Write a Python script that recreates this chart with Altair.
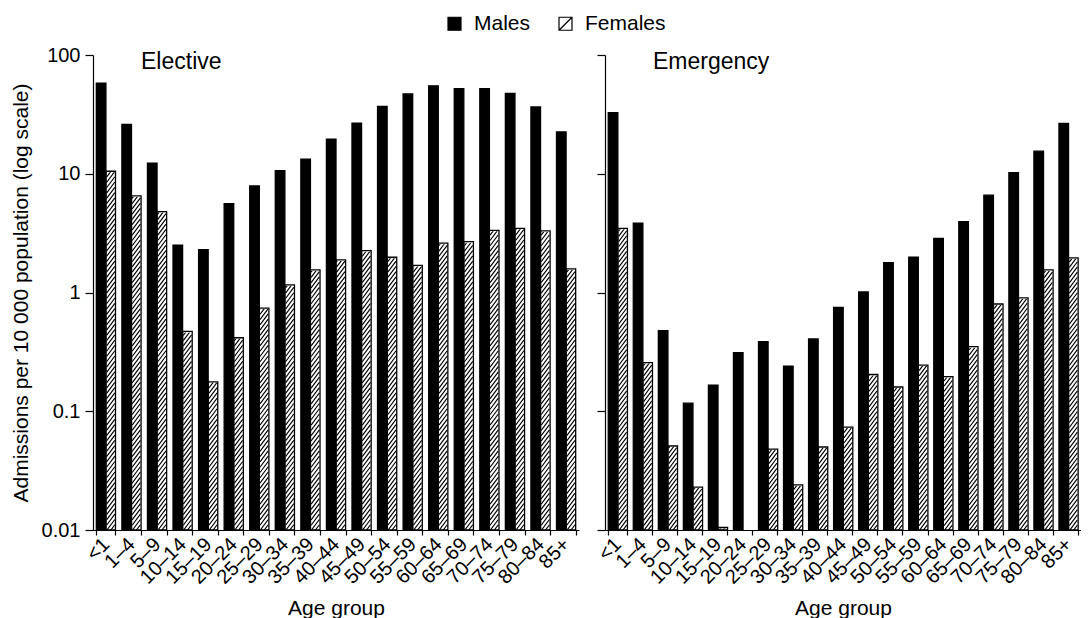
import altair as alt
import pandas as pd

# ---------------- data ----------------
ages = ["<1", "1–4", "5–9", "10–14", "15–19", "20–24", "25–29", "30–34", "35–39",
        "40–44", "45–49", "50–54", "55–59", "60–64", "65–69", "70–74", "75–79",
        "80–84", "85+"]

elective_males = [58, 26, 12.3, 2.5, 2.3, 5.6, 7.9, 10.6, 13.3, 19.6, 26.7,
                  37, 47, 55, 52, 52, 47.6, 36.5, 22.5]
elective_females = [10.5, 6.5, 4.8, 0.47, 0.177, 0.416, 0.74, 1.16, 1.55, 1.88,
                    2.25, 1.98, 1.69, 2.6, 2.68, 3.34, 3.47, 3.3, 1.58]

emergency_males = [32.7, 3.83, 0.477, 0.117, 0.166, 0.312, 0.385, 0.24, 0.406,
                   0.748, 1.01, 1.78, 1.98, 2.86, 3.95, 6.6, 10.2, 15.5, 26.6]
emergency_females = [3.47, 0.257, 0.051, 0.023, 0.0105, None, 0.048, 0.024,
                     0.050, 0.0736, 0.204, 0.16, 0.245, 0.196, 0.35, 0.80, 0.90,
                     1.55, 1.96]

sexes = ["Males", "Females"]
y_ticks = [0.01, 0.1, 1, 10, 100]

rows = []
for panel, m, f in [("Elective", elective_males, elective_females),
                    ("Emergency", emergency_males, emergency_females)]:
    for a, mv, fv in zip(ages, m, f):
        rows.append({"panel": panel, "age": a, "sex": "Males", "value": mv})
        rows.append({"panel": panel, "age": a, "sex": "Females", "value": fv})
df = pd.DataFrame(rows)

# ---------------- styling ----------------
FONT = "Liberation Sans"
H = 475
PAD_IN, PAD_OUT = 0.25, 0.13
LEGEND_SYMBOL = "M-1,-1H1V1H-1Z M-1,1L1,-1"


def hatch_path():
    # diagonal strokes in a tall symbol, slightly narrower than the unit box
    segs = []
    yy = -56.0
    while yy <= 56.0:
        segs.append(f"M-0.86,{yy + 1.15:.2f}L0.86,{yy - 1.15:.2f}")
        yy += 1.1
    return "".join(segs)


HATCH = hatch_path()


def make_panel(panel, first, width):
    step = width / (len(ages) - PAD_IN + 2 * PAD_OUT)
    sub = step * (1 - PAD_IN) / 2
    base = alt.Chart(df).transform_filter(f"datum.panel == '{panel}'")
    x = alt.X("age:N", sort=ages,
              scale=alt.Scale(domain=ages, paddingInner=PAD_IN, paddingOuter=PAD_OUT),
              axis=alt.Axis(title="Age group", labelAngle=-45, labelAlign="right",
                            labelBaseline="middle", tickBand="extent", tickSize=5,
                            labelPadding=6, titlePadding=10))
    xo = alt.XOffset("sex:N", sort=sexes, scale=alt.Scale(domain=sexes))
    yscale = alt.Scale(type="log", domain=[0.01, 100], nice=False)
    if first:
        yaxis = alt.Axis(values=y_ticks, format="~g",
                         title="Admissions per 10 000 population (log scale)",
                         tickSize=8, labelPadding=5, titlePadding=10)
    else:
        yaxis = alt.Axis(values=y_ticks, labels=False, title=None, tickSize=8)
    y = alt.Y("value:Q", scale=yscale, axis=yaxis)

    legend = alt.Legend(title=None, orient="none", direction="horizontal",
                        legendX=351, legendY=-42, symbolType=LEGEND_SYMBOL,
                        symbolSize=169, symbolStrokeColor="black",
                        symbolStrokeWidth=1.2, labelFontSize=21, labelFont=FONT,
                        labelOffset=9, columnPadding=24, labelColor="black")

    fem = base.transform_filter("datum.sex == 'Females' && isValid(datum.value)")

    hatch = fem.mark_point(shape=HATCH, size=sub ** 2, filled=False,
                           stroke="black", strokeWidth=1.15, opacity=1,
                           clip=True).encode(
        x=x, xOffset=xo, y=alt.Y(datum=1, scale=yscale, axis=yaxis))

    cover = fem.transform_calculate(top="100").mark_bar(
        fill="white", stroke="white", strokeWidth=2).encode(
        x=x, xOffset=xo, y=y, y2="top:Q")

    bars = base.transform_filter("isValid(datum.value)").transform_calculate(
        floor="0.01").mark_bar(stroke="black", strokeWidth=1.3).encode(
        x=x, xOffset=xo, y=y, y2="floor:Q",
        fill=alt.Fill("sex:N", sort=sexes,
                      scale=alt.Scale(domain=sexes, range=["black", "transparent"]),
                      legend=legend))

    title = alt.Chart(pd.DataFrame({"label": [panel]})).mark_text(
        align="left", baseline="alphabetic", fontSize=23, font=FONT,
        color="black").encode(text="label:N", x=alt.value(48), y=alt.value(14))

    return alt.layer(hatch, cover, bars, title).properties(width=width, height=H)


chart = alt.hconcat(make_panel("Elective", True, 486),
                    make_panel("Emergency", False, 476),
                    spacing=15).resolve_scale(fill="shared").properties(
    padding={"left": 2, "top": 5, "right": 0, "bottom": 0},
    background="white",
).configure_view(stroke=None).configure_axis(
    labelFont=FONT, titleFont=FONT, labelFontSize=20, titleFontSize=21,
    labelColor="black", titleColor="black", domainColor="black",
    tickColor="black", titleFontWeight="normal", grid=False, domainWidth=1.2,
    tickWidth=1.2,
)

chart.save("out.html", embed_options={"renderer": "svg", "actions": False})
